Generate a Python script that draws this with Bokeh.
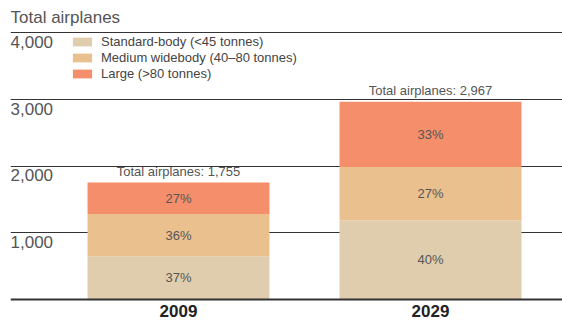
from bokeh.plotting import figure
from bokeh.models import ColumnDataSource, Range1d, Grid, FixedTicker, Span, Legend
from bokeh.core.properties import value
from bokeh.embed import file_html
from bokeh.resources import INLINE

years = ["2009", "2029"]
totals = [1755, 2967]
segments = ["standard", "medium", "large"]
seg_labels = ["Standard-body (<45 tonnes)", "Medium widebody (40\u201380 tonnes)", "Large (>80 tonnes)"]
pct_standard = [37, 40]
pct_medium = [36, 27]
pct_large = [27, 33]
colors = ["#E0CDAE", "#EBC08F", "#F58E6A"]
yticks = [1000, 2000, 3000, 4000]
ytick_labels = ["1,000", "2,000", "3,000", "4,000"]
title_text = "Total airplanes"

FONT = "Liberation Sans"

xs = list(range(len(years)))
pcts = {"standard": pct_standard, "medium": pct_medium, "large": pct_large}
data = {"x": xs, "year": years}
for s in segments:
    data[s] = [t * p / 100.0 for t, p in zip(totals, pcts[s])]
source = ColumnDataSource(data)

p = figure(width=562, height=324, output_backend="svg", toolbar_location=None,
           x_range=Range1d(-0.6667, 1.5238), y_range=Range1d(-375, 4485),
           x_axis_type=None, y_axis_type=None,
           min_border_left=10, min_border_right=0, min_border_top=0, min_border_bottom=0)
p.outline_line_color = None
p.background_fill_color = "white"
p.border_fill_color = "white"

grid = Grid(dimension=1, ticker=FixedTicker(ticks=yticks), grid_line_color="#333333", grid_line_width=1)
p.add_layout(grid)

renderers = p.vbar_stack(segments, x="x", width=0.722, color=colors, line_color=None, source=source)

p.add_layout(Span(location=0, dimension="width", line_color="#333333", line_width=2))

# percentage labels
px, py, pt = [], [], []
for i in xs:
    base = 0.0
    for s in segments:
        v = data[s][i]
        px.append(i)
        py.append(base + v / 2.0)
        pt.append(f"{pcts[s][i]}%")
        base += v
p.text(x=px, y=py, text=pt, text_align="center", text_baseline="middle",
       text_font=value(FONT), text_font_size="13px", text_color="#555555")

# totals above bars
p.text(x=xs, y=totals, text=[f"Total airplanes: {t:,}" for t in totals], text_align="center",
       text_baseline="bottom", y_offset=-4, text_font=value(FONT), text_font_size="13px", text_color="#555555")

# year labels
p.text(x=xs, y=[0, 0], text=years, text_align="center", text_baseline="top", y_offset=5,
       text_font=value(FONT), text_font_size="17px", text_font_style="bold", text_color="#222222")

# y tick labels inside, under each gridline
x0 = p.x_range.start
p.text(x=[x0] * len(yticks), y=yticks, text=ytick_labels, text_align="left", text_baseline="top",
       y_offset=3, text_font=value(FONT), text_font_size="17px", text_color="#555555")

# title
p.text(x=[x0], y=[4485], text=[title_text], text_align="left", text_baseline="top", y_offset=7,
       text_font=value(FONT), text_font_size="17px", text_color="#555555")

legend = Legend(items=[(lab, [r]) for lab, r in zip(seg_labels, renderers)],
                location=(60, 243), orientation="vertical",
                glyph_width=24, glyph_height=11, label_height=11, label_standoff=7,
                spacing=1, padding=0, margin=0,
                label_text_font=FONT, label_text_font_size="13px", label_text_color="#444444",
                border_line_color=None, background_fill_alpha=0)
p.add_layout(legend)

open("out.html", "w").write(file_html(p, INLINE))
